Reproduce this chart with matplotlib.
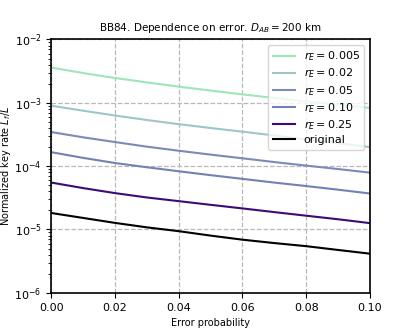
import numpy as np
import matplotlib
matplotlib.use("Agg")
import matplotlib.pyplot as plt

# Error probability grid
p = [0.0, 0.01, 0.02, 0.03, 0.04, 0.05, 0.06, 0.07, 0.08, 0.09, 0.10]

# Normalized key rates
rate_0005 = [3.6e-3, 2.95e-3, 2.46e-3, 2.1e-3, 1.8e-3, 1.56e-3, 1.36e-3, 1.19e-3, 1.05e-3, 0.93e-3, 8.3e-4]
rate_002 = [9.0e-4, 7.5e-4, 6.3e-4, 5.35e-4, 4.6e-4, 4.0e-4, 3.5e-4, 3.05e-4, 2.65e-4, 2.3e-4, 2.0e-4]
rate_005 = [3.45e-4, 2.85e-4, 2.4e-4, 2.03e-4, 1.75e-4, 1.52e-4, 1.33e-4, 1.16e-4, 1.02e-4, 0.9e-4, 7.9e-5]
rate_010 = [1.66e-4, 1.35e-4, 1.12e-4, 0.96e-4, 8.3e-5, 7.2e-5, 6.3e-5, 5.5e-5, 4.85e-5, 4.25e-5, 3.7e-5]
rate_025 = [5.5e-5, 4.5e-5, 3.75e-5, 3.2e-5, 2.8e-5, 2.45e-5, 2.15e-5, 1.88e-5, 1.65e-5, 1.45e-5, 1.26e-5]
rate_orig = [1.82e-5, 1.52e-5, 1.27e-5, 1.08e-5, 9.4e-6, 8.0e-6, 6.9e-6, 6.1e-6, 5.45e-6, 4.75e-6, 4.15e-6]

labels = [r"$r_E = 0.005$", r"$r_E = 0.02$", r"$r_E = 0.05$",
          r"$r_E = 0.10$", r"$r_E = 0.25$", "original"]
colors = ["#9ee6b8", "#9cc6c8", "#7c8ab8", "#7282b4", "#3c0c74", "black"]

plt.rcParams["font.size"] = 8

fig, ax = plt.subplots(figsize=(4.11, 3.29), dpi=100)
series = [rate_0005, rate_002, rate_005, rate_010, rate_025, rate_orig]
for ys, lab, c in zip(series, labels, colors):
    ax.plot(p, ys, color=c, label=lab, lw=1.5)

ax.set_yscale("log")
ax.set_xlim(0, 0.1)
ax.set_ylim(1e-6, 1e-2)
ax.set_xlabel("Error probability", fontsize=7)
ax.set_ylabel(r"Normalized key rate $L_f/L$", fontsize=7, labelpad=1)
ax.set_title(r"BB84. Dependence on error. $D_{AB} = 200$ km", fontsize=7.5)
ax.grid(True, ls="--", color="#b8b8b8", lw=0.9)
for s in ax.spines.values():
    s.set_linewidth(1.2)
ax.legend(loc="upper right", fontsize=8, labelspacing=0.3)

fig.subplots_adjust(left=0.125, right=0.9, top=0.88, bottom=0.11)
fig.savefig("out.png", dpi=100)
